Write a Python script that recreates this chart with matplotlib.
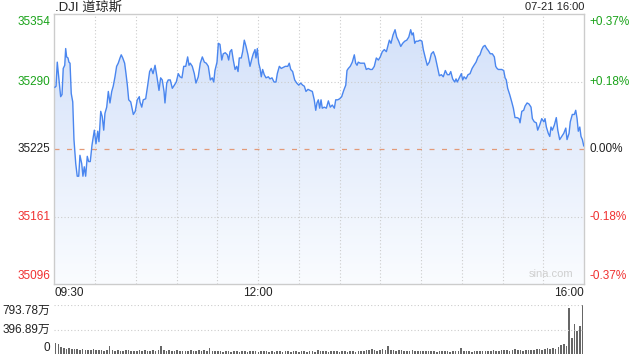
import matplotlib

matplotlib.use("Agg")
import matplotlib.pyplot as plt
import matplotlib.transforms as mtransforms
import numpy as np
from matplotlib.colors import LinearSegmentedColormap

plt.rcParams["font.family"] = ["Liberation Sans", "Noto Sans CJK SC", "DejaVu Sans"]

# 前日終値と表示レンジ
prev_close = 35225
price_lo, price_hi = 35096, 35354

# 09:30 からの経過分, 指数値
minutes = [
    0.5, 1.3, 2.2, 3.5, 4.7, 5.7, 6.6, 7.7, 8.4, 9.1, 10.1, 10.8, 11.6, 12.5, 13.6, 14.5, 15.8, 16.9, 18.0, 18.9,
    20.2, 21.1, 22.1, 23.1, 24.3, 25.3, 26.5, 27.8, 29.5, 30.7, 32.0, 32.9, 34.2, 35.3, 36.4, 37.3, 38.6, 39.8, 41.0, 42.3,
    43.4, 44.7, 45.9, 47.1, 48.4, 49.3, 50.4, 51.8, 52.8, 53.8, 54.8, 56.3, 58.2, 59.6, 61.1, 62.6,
    63.1, 64.4, 65.5, 67.3, 68.8, 70.2, 71.4, 72.7, 74.2, 75.6, 77.1, 78.3, 79.5, 80.8, 81.5, 82.8, 83.9, 85.4, 86.9, 88.4,
    89.8, 91.3, 92.6, 94.0, 95.3, 96.8, 98.2, 99.2, 100.1, 101.6, 103.1, 104.3, 106.0, 107.5, 109.0, 110.5, 111.9, 113.4, 114.9, 116.3,
    117.4, 118.3, 119.8, 120.8, 122.0, 123.3, 124.4,
    125.9, 127.4, 128.4, 129.4, 130.6, 131.8, 133.1, 134.3, 135.3, 136.2, 137.7, 138.7, 139.9, 141.2, 142.6, 144.1, 145.6, 146.5, 147.8, 148.5,
    149.5, 150.5, 151.5, 152.4, 153.4, 154.6, 155.9, 157.6, 158.8, 160.3, 161.8, 163.2, 164.2, 165.7, 167.1, 168.6, 170.1, 171.9, 173.0, 174.1,
    175.5, 177.0, 178.5, 180.0, 181.4, 182.9, 184.1, 185.3, 186.8, 188.3,
    190.0, 191.4, 192.5, 193.4, 194.4, 195.4, 196.4, 197.3, 198.8, 200.3, 201.8, 203.2, 204.7, 206.2, 207.2, 208.7, 210.1, 211.6, 213.1, 214.6,
    215.5, 216.5, 217.9, 219.4, 220.9, 221.9, 222.9, 223.8, 225.3, 226.8, 228.3, 229.7, 231.2, 232.7, 234.1, 235.6, 237.1, 238.6, 240.0, 241.5,
    243.0, 244.5, 245.5, 246.7, 247.9, 249.4, 250.9,
    252.1, 253.6, 255.1, 256.5, 258.0, 259.5, 261.0, 262.4, 263.4, 264.3, 265.4, 266.3, 267.8, 269.3, 270.7, 271.7, 273.2, 274.6, 276.1, 277.6,
    279.1, 280.5, 282.0, 283.5, 285.0, 286.4, 287.9, 289.4, 290.8, 291.9, 293.3, 294.8, 295.8, 296.7, 298.2, 299.7, 300.7, 301.7, 303.1, 304.6,
    306.1, 307.6, 309.0, 310.5, 312.0, 313.4,
    314.7, 315.9, 317.1, 318.4, 319.6, 321.0, 322.5, 324.0, 325.0, 326.0, 326.9, 328.0, 329.4, 330.9, 331.9, 332.8, 333.8, 335.3, 336.8, 338.0,
    339.2, 340.7, 342.2, 342.9, 344.2, 345.6, 346.6, 348.1, 349.5, 351.0, 352.0, 353.4, 354.9, 355.9, 357.4, 358.9, 360.4, 361.3, 362.3, 363.7,
    364.8, 365.7, 366.7, 368.2, 369.6, 370.7, 372.1, 373.6, 375.1, 376.6, 377.5, 379.0, 379.9, 381.4, 382.9, 383.9, 384.9, 385.8, 386.9, 387.8,
    388.8, 389.8,
]
prices = [
    35284, 35285, 35308, 35291, 35275, 35277, 35302, 35305, 35321, 35313, 35312, 35308, 35307, 35278, 35270, 35234, 35211, 35199, 35199, 35219,
    35211, 35199, 35208, 35199, 35218, 35213, 35213, 35229, 35243, 35230, 35242, 35232, 35261, 35256, 35243, 35259, 35265, 35280, 35269, 35280,
    35285, 35294, 35304, 35307, 35312, 35315, 35312, 35307, 35297, 35286, 35272, 35270, 35258, 35261, 35272, 35275,
    35270, 35265, 35272, 35273, 35286, 35299, 35302, 35297, 35305, 35294, 35281, 35293, 35291, 35280, 35269, 35288, 35291, 35291, 35283, 35286,
    35289, 35297, 35294, 35293, 35304, 35304, 35313, 35305, 35307, 35304, 35297, 35288, 35294, 35307, 35313, 35308, 35307, 35304, 35291, 35293,
    35289, 35300, 35308, 35326, 35325, 35310, 35316,
    35317, 35315, 35310, 35318, 35320, 35310, 35301, 35304, 35299, 35312, 35312, 35318, 35329, 35323, 35315, 35304, 35312, 35316, 35320, 35312,
    35321, 35307, 35302, 35294, 35301, 35296, 35293, 35294, 35292, 35293, 35289, 35289, 35297, 35304, 35302, 35303, 35304, 35304, 35307, 35301,
    35299, 35291, 35288, 35286, 35288, 35286, 35285, 35280, 35282, 35281,
    35280, 35272, 35262, 35269, 35272, 35264, 35272, 35264, 35265, 35264, 35271, 35265, 35267, 35264, 35272, 35272, 35273, 35275, 35281, 35286,
    35300, 35302, 35304, 35308, 35315, 35307, 35305, 35308, 35307, 35307, 35307, 35301, 35302, 35301, 35301, 35304, 35312, 35310, 35313, 35318,
    35320, 35318, 35323, 35329, 35326, 35334, 35339,
    35332, 35328, 35323, 35326, 35328, 35329, 35332, 35339, 35334, 35336, 35326, 35328, 35328, 35329, 35328, 35320, 35312, 35305, 35308, 35316,
    35318, 35313, 35304, 35295, 35296, 35294, 35300, 35296, 35296, 35299, 35292, 35289, 35292, 35289, 35293, 35297, 35291, 35294, 35292, 35296,
    35297, 35302, 35305, 35308, 35313, 35315,
    35320, 35323, 35324, 35321, 35319, 35316, 35316, 35313, 35304, 35302, 35301, 35301, 35301, 35300, 35293, 35291, 35283, 35277, 35270, 35264,
    35255, 35255, 35254, 35250, 35261, 35262, 35266, 35269, 35268, 35265, 35254, 35251, 35250, 35243, 35248, 35254, 35251, 35254, 35246, 35240,
    35237, 35246, 35243, 35248, 35255, 35243, 35234, 35237, 35240, 35245, 35234, 35240, 35251, 35258, 35258, 35262, 35254, 35242, 35246, 35237,
    35234, 35228,
]

# 出来高 (万), 2分ごと 0..390
vol_minutes = list(range(0, 391, 2))
volumes = [
    187, 165, 120, 110, 96, 100, 90, 96, 85, 80,
    90, 75, 80, 70, 85, 65, 70, 75, 60, 70,
    130, 65, 60, 70, 55, 60, 65, 70, 55, 60,
    60, 65, 55, 70, 60, 55, 65, 60, 70, 135,
    70, 60, 65, 55, 60, 65, 55, 60, 60, 55,
    65, 60, 55, 70, 60, 65, 55, 110, 60, 55,
    50, 55, 45, 50, 55, 45, 50, 60, 45, 50,
    55, 45, 50, 60, 50, 45, 55, 50, 60, 45,
    50, 45, 55, 50, 45, 50, 55, 45, 50, 55,
    45, 50, 60, 45, 55, 50, 45, 70, 50, 55,
    50, 45, 55, 60, 50, 45, 55, 50, 45, 50,
    55, 45, 50, 55, 60, 70, 65, 85, 75, 60,
    65, 90, 80, 130, 70, 65, 60, 70, 65, 60,
    55, 60, 65, 55, 60, 55, 50, 55, 60, 50,
    55, 45, 50, 60, 50, 55, 45, 50, 55, 60,
    110, 55, 60, 50, 45, 55, 50, 55, 60, 50,
    55, 60, 65, 55, 60, 70, 65, 75, 60, 70,
    95, 65, 70, 60, 65, 75, 70, 80, 85, 90,
    80, 95, 100, 90, 110, 95, 120, 150, 175, 140,
    745, 265, 486, 380, 454, 793.78,
]
vol_max = 793.78

time_labels = ["09:30", "12:00", "16:00"]
time_label_pos = [0, 150, 390]

green = "#1aa31a"
red = "#f03030"
grid_c = "#cccccc"

fig = plt.figure(figsize=(6.4, 3.6), dpi=100)
ax = fig.add_axes([0.0848, 0.2111, 0.8277, 0.75])
vax = fig.add_axes([0.0848, 0.0153, 0.8277, 0.1375])

# 塗りつぶし (グラデーション)
poly = ax.fill_between(minutes, prices, price_lo, color="none", lw=0)
cmap = LinearSegmentedColormap.from_list("fill", ["#fafcff", "#d2e0f9"])
grad = np.linspace(0, 1, 256).reshape(-1, 1)
im = ax.imshow(grad, extent=[0, 390, price_lo, price_hi], origin="lower",
               cmap=cmap, aspect="auto", zorder=1)
im.set_clip_path(poly.get_paths()[0], transform=ax.transData)

ax.plot(minutes, prices, color="#4a86ef", lw=1.0, zorder=3)

ax.set_xlim(0, 390)
ax.set_ylim(price_lo, price_hi)

# グリッド
for m in range(30, 390, 30):
    ax.axvline(m, color=grid_c, lw=0.8, ls=(0, (1, 2)), zorder=2)
ticks = np.linspace(price_lo, price_hi, 5)
for v in ticks[1:-1]:
    if v == prev_close:
        ax.axhline(v, color="#e39a78", lw=0.9, ls=(0, (4, 6)), zorder=2)
    else:
        ax.axhline(v, color=grid_c, lw=0.8, ls=(0, (1, 2)), zorder=2)

ax.set_xticks([])
ax.set_yticks([])
for s in ax.spines.values():
    s.set_color(grid_c)
    s.set_linewidth(1.0)

# 軸ラベル
trans_y = mtransforms.blended_transform_factory(ax.transAxes, ax.transData)
for i, v in enumerate(ticks):
    pct = (v - prev_close) / prev_close * 100
    if v > prev_close:
        c = green
        ptxt = f"+{pct:.2f}%"
    elif v < prev_close:
        c = red
        ptxt = f"{pct:.2f}%"
    else:
        c = "#222222"
        ptxt = "0.00%"
    off = 0
    if i == len(ticks) - 1:
        off = -6
    elif i == 0:
        off = 6
    ax.annotate(str(int(v + 0.5)), xy=(-0.008, v), xycoords=trans_y,
                xytext=(0, off), textcoords="offset points",
                ha="right", va="center", fontsize=8.5, color=c)
    ax.annotate(ptxt, xy=(1.01, v), xycoords=trans_y,
                xytext=(0, off), textcoords="offset points",
                ha="left", va="center", fontsize=8.5, color=c)

trans_x = mtransforms.blended_transform_factory(ax.transData, ax.transAxes)
for lab, pos in zip(time_labels, time_label_pos):
    ha = "left" if pos == 0 else ("right" if pos == 390 else "center")
    ax.text(pos, -0.033, lab, transform=trans_x, ha=ha, va="center",
            fontsize=8.5, color="#222222")

fig.text(0.0855, 0.978, ".DJI 道琼斯", ha="left", va="center", fontsize=9.5, color="#222222")
fig.text(0.9125, 0.98, "07-21 16:00", ha="right", va="center", fontsize=8, color="#222222")
ax.text(0.98, 0.02, "sina.com", transform=ax.transAxes, ha="right", va="bottom",
        fontsize=8, color="#cfcfcf")

# 出来高
vax.bar(vol_minutes, volumes, width=1.2, color="#666666", lw=0)
vax.set_xlim(-1, 391)
vax.set_ylim(0, vol_max)
for v in [vol_max / 2, vol_max]:
    vax.axhline(v, color=grid_c, lw=0.8, ls=(0, (1, 2)))
vax.set_xticks([])
vax.set_yticks([])
for s in vax.spines.values():
    s.set_visible(False)
trans_v = mtransforms.blended_transform_factory(vax.transAxes, vax.transData)
vax.text(-0.008, vol_max, f"{vol_max:.2f}万", transform=trans_v, ha="right", va="top", fontsize=8.5, color="#222222")
vax.text(-0.008, vol_max / 2, f"{vol_max / 2:.2f}万", transform=trans_v, ha="right", va="center", fontsize=8.5, color="#222222")
vax.text(-0.008, 0, "0", transform=trans_v, ha="right", va="bottom", fontsize=8.5, color="#222222")

fig.savefig("out.png", dpi=100)
